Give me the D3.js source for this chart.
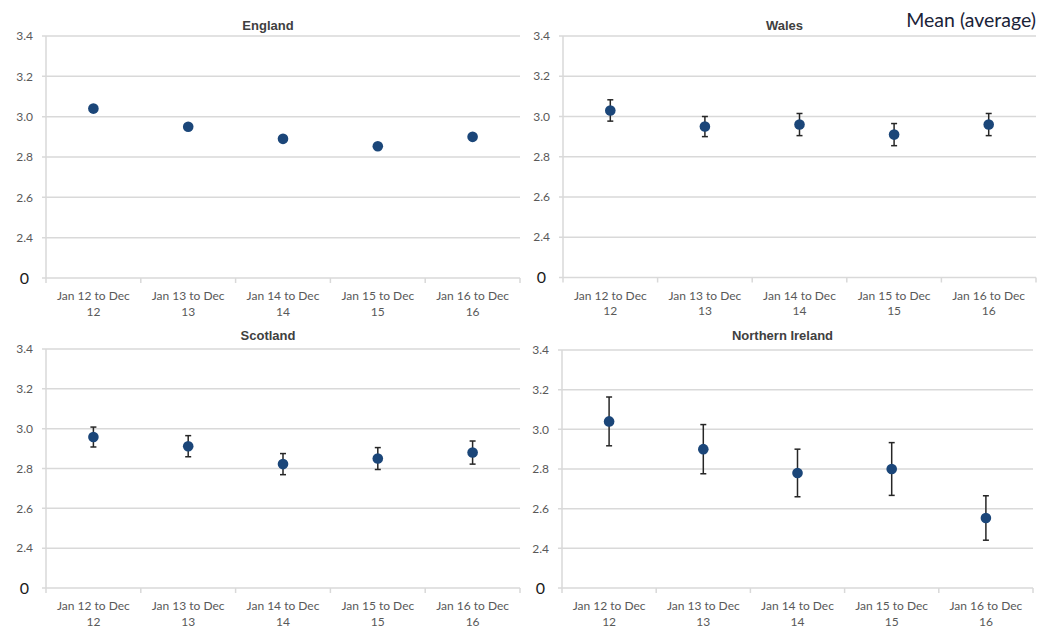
<html>

<head>
    <script src="https://cdn.jsdelivr.net/npm/d3@7/dist/d3.min.js"></script>
    <style>
        body { margin: 0; background: #fff; }
        svg text { font-family: Lato, "Open Sans", sans-serif; }
    </style>
</head>

<body>
    <script>
        // periods on the x axis (two-line labels)
        var categories = ['Jan 12 to Dec 12', 'Jan 13 to Dec 13', 'Jan 14 to Dec 14', 'Jan 15 to Dec 15', 'Jan 16 to Dec 16'];
        var countries = ['England', 'Wales', 'Scotland', 'Northern Ireland'];

        // mean values
        var england = [3.04, 2.95, 2.89, 2.853, 2.90];
        var wales = [3.03, 2.95, 2.96, 2.91, 2.96];
        var scotland = [2.958, 2.912, 2.822, 2.85, 2.88];
        var northernIreland = [3.04, 2.90, 2.78, 2.80, 2.553];

        // half-width of the error bars
        var englandErr = [0, 0, 0, 0, 0.01];
        var walesErr = [0.053, 0.05, 0.055, 0.055, 0.055];
        var scotlandErr = [0.05, 0.053, 0.053, 0.055, 0.058];
        var northernIrelandErr = [0.123, 0.124, 0.12, 0.133, 0.112];

        // y ticks; the lowest one is drawn as "0" (broken axis)
        var yTicks = [2.2, 2.4, 2.6, 2.8, 3.0, 3.2, 3.4];

        var values = [england, wales, scotland, northernIreland];
        var errors = [englandErr, walesErr, scotlandErr, northernIrelandErr];

        // panel frames
        var panels = [
            { left: 46, right: 520, top: 36, bottom: 278, titleY: 30 },
            { left: 563, right: 1036, top: 36, bottom: 277.5, titleY: 30 },
            { left: 46, right: 520, top: 349, bottom: 588, titleY: 340 },
            { left: 562, right: 1033, top: 350, bottom: 588, titleY: 340 }
        ];

        var svg = d3.select('body')
            .append('svg')
            .attr('width', 1040)
            .attr('height', 628);

        panels.forEach(function (p, i) {
            var g = svg.append('g');

            var x = d3.scaleBand()
                .domain(categories)
                .range([p.left, p.right]);

            var y = d3.scaleLinear()
                .domain([2.2, 3.4])
                .range([p.bottom, p.top]);

            // gridlines
            g.selectAll('line.grid')
                .data(yTicks)
                .enter()
                .append('line')
                .attr('x1', p.left - 4)
                .attr('x2', p.right)
                .attr('y1', function (d) { return y(d); })
                .attr('y2', function (d) { return y(d); })
                .attr('stroke', '#d9d9d9')
                .attr('stroke-width', 1.5);

            // vertical axis line
            g.append('line')
                .attr('x1', p.left).attr('x2', p.left)
                .attr('y1', p.top).attr('y2', p.bottom)
                .attr('stroke', '#d9d9d9')
                .attr('stroke-width', 1.5);

            // category tick marks below the axis
            var edges = categories.map(function (c) { return x(c); }).concat([p.right]);
            g.selectAll('line.xtick')
                .data(edges)
                .enter()
                .append('line')
                .attr('x1', function (d) { return d; })
                .attr('x2', function (d) { return d; })
                .attr('y1', p.bottom)
                .attr('y2', p.bottom + 5)
                .attr('stroke', '#d9d9d9')
                .attr('stroke-width', 1.5);

            // y tick labels
            g.selectAll('text.ylab')
                .data(yTicks)
                .enter()
                .append('text')
                .attr('x', function (d) { return d === 2.2 ? p.left - 17 : p.left - 13; })
                .attr('y', function (d) { return y(d); })
                .attr('dy', '0.35em')
                .attr('text-anchor', 'end')
                .attr('font-size', function (d) { return d === 2.2 ? 16 : 12; })
                .attr('fill', function (d) { return d === 2.2 ? '#1a1a1a' : '#595959'; })
                .text(function (d) { return d === 2.2 ? '0' : d3.format('.1f')(d); });

            // x tick labels, two lines
            var xl = g.selectAll('text.xlab')
                .data(categories)
                .enter()
                .append('text')
                .attr('text-anchor', 'middle')
                .attr('font-size', 12)
                .attr('fill', '#595959');
            xl.append('tspan')
                .attr('x', function (d) { return x(d) + x.bandwidth() / 2; })
                .attr('y', p.bottom + 22)
                .text(function (d) { return d.split(' ').slice(0, 4).join(' '); });
            xl.append('tspan')
                .attr('x', function (d) { return x(d) + x.bandwidth() / 2; })
                .attr('y', p.bottom + 37.5)
                .text(function (d) { return d.split(' ')[4]; });

            // panel title
            g.append('text')
                .attr('x', (p.left + p.right) / 2 - 15)
                .attr('y', p.titleY)
                .attr('text-anchor', 'middle')
                .attr('font-size', 13)
                .attr('font-weight', 'bold')
                .attr('fill', '#404040')
                .style('font-family', '"Liberation Sans", Arial, sans-serif')
                .text(countries[i]);

            var pts = values[i].map(function (v, j) {
                return { cat: categories[j], v: v, e: errors[i][j] };
            });

            var cx = function (d) { return x(d.cat) + x.bandwidth() / 2; };

            // error bars
            var eb = g.selectAll('g.err')
                .data(pts.filter(function (d) { return d.e > 0; }))
                .enter()
                .append('g')
                .attr('stroke', '#262626')
                .attr('stroke-width', 1.5);
            eb.append('line')
                .attr('x1', cx).attr('x2', cx)
                .attr('y1', function (d) { return y(d.v + d.e); })
                .attr('y2', function (d) { return y(d.v - d.e); });
            eb.append('line')
                .attr('x1', function (d) { return cx(d) - 3; })
                .attr('x2', function (d) { return cx(d) + 3; })
                .attr('y1', function (d) { return y(d.v + d.e); })
                .attr('y2', function (d) { return y(d.v + d.e); });
            eb.append('line')
                .attr('x1', function (d) { return cx(d) - 3; })
                .attr('x2', function (d) { return cx(d) + 3; })
                .attr('y1', function (d) { return y(d.v - d.e); })
                .attr('y2', function (d) { return y(d.v - d.e); });

            // markers
            g.selectAll('circle')
                .data(pts)
                .enter()
                .append('circle')
                .attr('cx', cx)
                .attr('cy', function (d) { return y(d.v); })
                .attr('r', 5.3)
                .attr('fill', '#1b4679');
        });

        svg.append('text')
            .attr('x', 1036)
            .attr('y', 27)
            .attr('text-anchor', 'end')
            .attr('font-size', 19.5)
            .attr('fill', '#1a2338')
            .text('Mean (average)');
    </script>
</body>

</html>
